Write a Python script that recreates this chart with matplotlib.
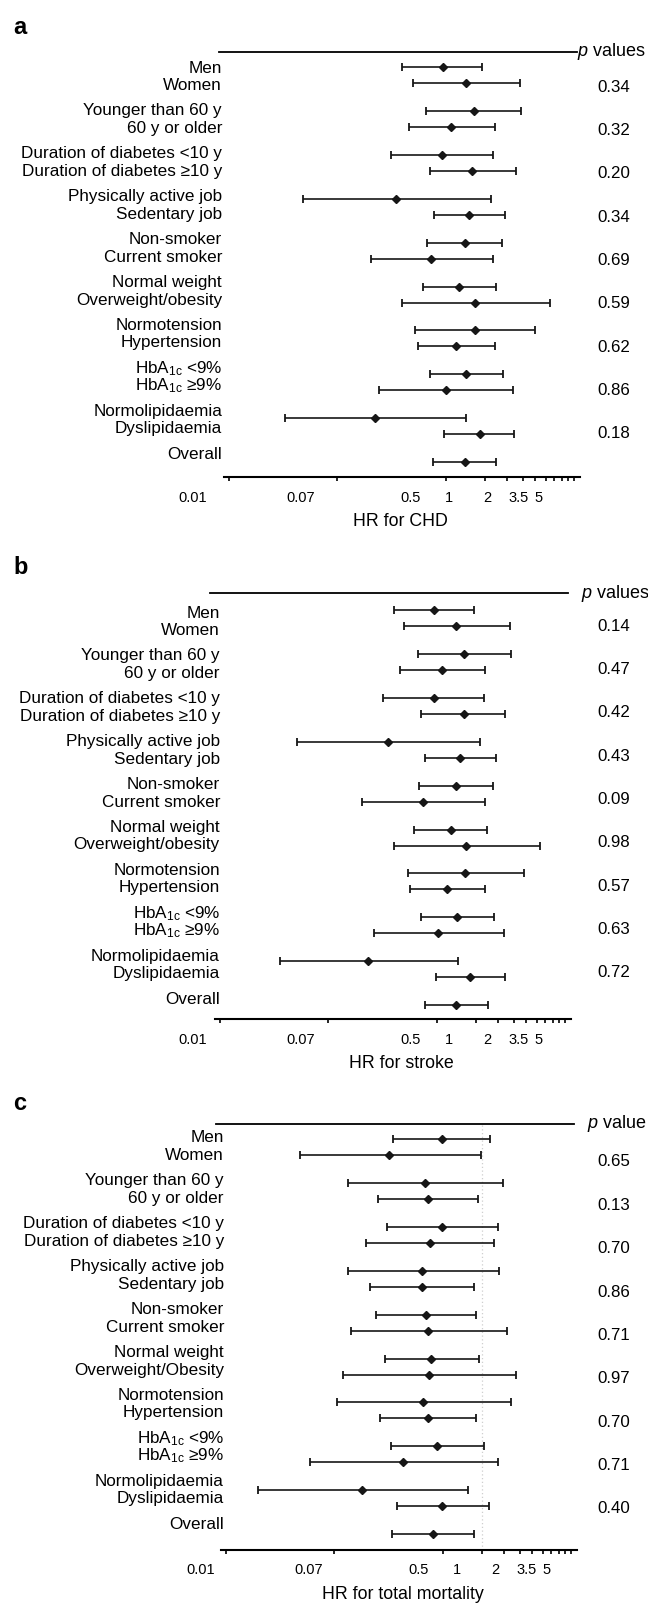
import numpy as np
import matplotlib
matplotlib.use('Agg')
import matplotlib.pyplot as plt
from matplotlib.ticker import NullFormatter
from matplotlib.transforms import ScaledTranslation, blended_transform_factory

plt.rcParams['font.family'] = ['Liberation Sans', 'DejaVu Sans']
plt.rcParams['mathtext.fontset'] = 'custom'
plt.rcParams['mathtext.rm'] = 'Liberation Sans'
plt.rcParams['mathtext.it'] = 'Liberation Sans:italic'
plt.rcParams['mathtext.bf'] = 'Liberation Sans:bold'

# subgroup names (row order, top to bottom)
subgroups = ['Men', 'Women', 'Younger than 60 y', '60 y or older',
             'Duration of diabetes <10 y', 'Duration of diabetes \u226510 y',
             'Physically active job', 'Sedentary job',
             'Non-smoker', 'Current smoker',
             'Normal weight', 'Overweight/obesity',
             'Normotension', 'Hypertension',
             'HbA$_{\\mathrm{1c}}$ <9%', 'HbA$_{\\mathrm{1c}}$ \u22659%',
             'Normolipidaemia', 'Dyslipidaemia', 'Overall']
subgroups_c = subgroups[:11] + ['Overweight/Obesity'] + subgroups[12:]

# a: CHD
hr_chd = [0.94, 1.43, 1.64, 1.09, 0.93, 1.60, 0.41, 1.52, 1.40, 0.77,
          1.27, 1.69, 1.67, 1.19, 1.43, 1.00, 0.28, 1.83, 1.40]
lo_chd = [0.45, 0.55, 0.70, 0.51, 0.37, 0.75, 0.077, 0.80, 0.71, 0.26,
          0.66, 0.45, 0.57, 0.60, 0.75, 0.30, 0.055, 0.96, 0.79]
hi_chd = [1.92, 3.81, 3.88, 2.40, 2.34, 3.52, 2.24, 2.91, 2.76, 2.34,
          2.47, 6.47, 4.97, 2.40, 2.81, 3.33, 1.43, 3.41, 2.47]
p_chd = ['0.34', '0.32', '0.20', '0.34', '0.69', '0.59', '0.62', '0.86', '0.18']

# b: stroke
hr_stroke = [0.94, 1.42, 1.62, 1.10, 0.94, 1.62, 0.415, 1.52, 1.40, 0.78,
             1.28, 1.69, 1.66, 1.19, 1.43, 1.02, 0.29, 1.82, 1.42]
lo_stroke = [0.46, 0.55, 0.71, 0.51, 0.38, 0.75, 0.081, 0.81, 0.72, 0.26,
             0.66, 0.46, 0.59, 0.61, 0.75, 0.32, 0.059, 0.98, 0.81]
hi_stroke = [1.93, 3.75, 3.80, 2.39, 2.32, 3.40, 2.18, 2.89, 2.75, 2.36,
             2.44, 6.38, 4.82, 2.39, 2.77, 3.33, 1.46, 3.40, 2.49]
p_stroke = ['0.14', '0.47', '0.42', '0.43', '0.09', '0.98', '0.57', '0.63', '0.72']

# c: total mortality
hr_mort = [0.98, 0.38, 0.72, 0.77, 0.99, 0.79, 0.69, 0.68, 0.74, 0.77,
           0.81, 0.78, 0.70, 0.76, 0.89, 0.485, 0.234, 0.99, 0.84]
lo_mort = [0.41, 0.077, 0.18, 0.31, 0.365, 0.25, 0.18, 0.27, 0.30, 0.19,
           0.35, 0.166, 0.148, 0.32, 0.39, 0.092, 0.036, 0.44, 0.40]
hi_mort = [2.35, 1.99, 2.93, 1.89, 2.67, 2.51, 2.72, 1.76, 1.82, 3.15,
           1.92, 3.75, 3.39, 1.81, 2.09, 2.67, 1.56, 2.27, 1.76]
p_mort = ['0.65', '0.13', '0.70', '0.86', '0.71', '0.97', '0.70', '0.71', '0.40']

tick_label_values = [0.01, 0.07, 0.5, 1, 2, 3.5, 5]
tick_labels = ['0.01', '0.07', '0.5', '1', '2', '3.5', '5']
tick_marks = [0.02, 0.14, 1, 2, 3, 4, 5, 6, 7, 8, 9, 10]

W, H = 648, 1605
DECADE = 128   # pixels per decade on the HR axis
INK = '#161616'

fig = plt.figure(figsize=(W / 100, H / 100), dpi=100)


def draw_panel(letter, names, hr, lo, hi, pvals, header, xlabel,
               top, bottom, one_px, bar0, lab0, p0, label_x, head_x,
               tick_dx, letter_y, xlabel_x, refline=None):
    """Draw one forest-plot panel; layout positions are in figure pixels."""
    left = one_px - 2.2 * DECADE
    width = 3.5 * DECADE
    ax = fig.add_axes([left / W, 1 - bottom / H, width / W, (bottom - top) / H])
    ax.set_xscale('log')
    ax.set_xlim(10 ** -2.2, 10 ** 1.3)
    ax.set_ylim(bottom - top, 0)

    hr = np.array(hr)
    lo = np.array(lo)
    hi = np.array(hi)
    idx = np.arange(len(hr))
    pair, within = idx // 2, idx % 2
    bar_y = bar0 + 43.9 * pair + 16 * within
    lab_y = lab0 + 42.9 * pair + 17.5 * within

    if refline is not None:
        ax.axvline(refline, color='#cfcfcf', lw=0.9, ls=(0, (1, 2)), zorder=0)

    ax.errorbar(hr, bar_y, xerr=[hr - lo, hi - hr], fmt='D', ms=4.2,
                color=INK, ecolor=INK, elinewidth=1.2, capsize=2.6,
                capthick=1.3, zorder=3)

    xfig = blended_transform_factory(fig.transFigure, ax.transData)
    for name, y in zip(names, lab_y):
        ax.text(label_x / W, y, name, transform=xfig, ha='right',
                va='center', fontsize=12.3)
    p_y = p0 + 43.35 * np.arange(len(pvals))
    for p, y in zip(pvals, p_y):
        ax.text(630 / W, y, p, transform=xfig, ha='right', va='center',
                fontsize=12.2)

    # axis decoration
    for side in ['left', 'right']:
        ax.spines[side].set_visible(False)
    ax.spines['top'].set_bounds(0.017, 10.6)
    ax.spines['top'].set_linewidth(1.3)
    ax.spines['bottom'].set_bounds(0.0185, 11.2)
    ax.spines['bottom'].set_linewidth(1.5)
    ax.set_yticks([])
    ax.set_xticks([])
    ax.set_xticks(tick_marks, minor=True)
    ax.xaxis.set_minor_formatter(NullFormatter())
    ax.tick_params(axis='x', which='minor', length=3, width=1.2,
                   direction='out', top=False)

    shift = ScaledTranslation(tick_dx / 100, -20.5 / 100, fig.dpi_scale_trans)
    trans = ax.get_xaxis_transform() + shift
    for v, lab in zip(tick_label_values, tick_labels):
        ax.text(v, 0, lab, transform=trans, ha='center', va='center',
                fontsize=10.5)

    fig.text(head_x / W, 1 - top / H, header, ha='left', va='center',
             fontsize=13)
    fig.text(xlabel_x / W, 1 - (bottom + 44.5) / H, xlabel, ha='center',
             va='center', fontsize=12.8)
    fig.text(13 / W, 1 - letter_y / H, letter, fontsize=17,
             fontweight='bold', va='center')
    return ax


draw_panel('a', subgroups, hr_chd, lo_chd, hi_chd, p_chd, '$p$ values',
           'HR for CHD', top=52, bottom=477, one_px=446, bar0=15, lab0=16,
           p0=35, label_x=222, head_x=577, tick_dx=3, letter_y=28,
           xlabel_x=400)

draw_panel('b', subgroups, hr_stroke, lo_stroke, hi_stroke, p_stroke,
           '$p$ values', 'HR for stroke', top=593, bottom=1019, one_px=437,
           bar0=17, lab0=20, p0=33, label_x=220, head_x=581, tick_dx=12,
           letter_y=568, xlabel_x=401)

draw_panel('c', subgroups_c, hr_mort, lo_mort, hi_mort, p_mort,
           '$p$ value', 'HR for total mortality', top=1124, bottom=1550,
           one_px=443, bar0=15, lab0=14, p0=38, label_x=224, head_x=587,
           tick_dx=14, letter_y=1104, xlabel_x=403, refline=2)

fig.savefig('out.png', dpi=100)
